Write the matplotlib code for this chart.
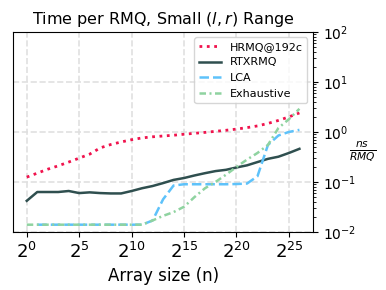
import matplotlib
matplotlib.use("Agg")
import matplotlib.pyplot as plt
import numpy as np

# log2 of array size
exps = list(range(0, 27))

hrmq = [0.125, 0.15, 0.18, 0.21, 0.25, 0.3, 0.36, 0.48, 0.56, 0.63, 0.7,
        0.76, 0.8, 0.83, 0.86, 0.9, 0.94, 0.98, 1.03, 1.08, 1.14, 1.22,
        1.32, 1.48, 1.7, 2.0, 2.4]
rtx = [0.042, 0.063, 0.063, 0.063, 0.066, 0.06, 0.062, 0.06, 0.059, 0.059,
       0.066, 0.075, 0.083, 0.095, 0.11, 0.12, 0.135, 0.15, 0.165, 0.175,
       0.195, 0.215, 0.25, 0.29, 0.32, 0.38, 0.46]
lca_exps = list(range(1, 27))
lca = [0.014] * 11 + [0.017, 0.045, 0.085, 0.09, 0.09, 0.09, 0.09, 0.09,
                      0.091, 0.093, 0.13, 0.55, 0.85, 1.0, 1.1]
exh = [0.014] * 12 + [0.017, 0.021, 0.025, 0.032, 0.05, 0.075, 0.1, 0.14,
                      0.2, 0.28, 0.38, 0.55, 1.2, 1.8, 2.9]

xs = [2 ** e for e in exps]
lca_xs = [2 ** e for e in lca_exps]

fig = plt.figure(figsize=(3.86, 2.9), dpi=100)
ax = fig.add_axes([0.034, 0.2, 0.777, 0.69])

ax.plot(xs, hrmq, ':', color='#f0134d', lw=2, label='HRMQ@192c')
ax.plot(xs, rtx, '-', color='#2f4f4f', lw=1.8, label='RTXRMQ')
ax.plot(lca_xs, lca, color='#5ec2fa', lw=1.8, dashes=(3.8, 1.6), label='LCA')
ax.plot(xs, exh, color='#8fd3a0', lw=1.8, dashes=(2.6, 1.4, 0.8, 1.4),
        label='Exhaustive')

ax.set_xscale('log', base=2)
ax.set_yscale('log')
ax.set_ylim(1e-2, 1e2)
ax.set_xticks([2 ** e for e in range(0, 26, 5)])
ax.tick_params(axis='x', labelsize=13, which='major')
ax.tick_params(axis='x', which='minor', bottom=False)
ax.yaxis.tick_right()
ax.tick_params(axis='y', labelsize=10)
ax.yaxis.set_label_position('right')
ax.set_ylabel(r'$\frac{ns}{RMQ}$', rotation=0, fontsize=11)
ax.yaxis.set_label_coords(1.165, 0.46)
ax.grid(True, which='major', linestyle='--', color='#e0e0e0', lw=1.2)

ax.set_title(r'Time per RMQ, Small $(l, r)$ Range', fontsize=11.5)
ax.set_xlabel('Array size (n)', fontsize=12)
ax.legend(loc='upper right', fontsize=8)

plt.savefig('out.png', dpi=100)
